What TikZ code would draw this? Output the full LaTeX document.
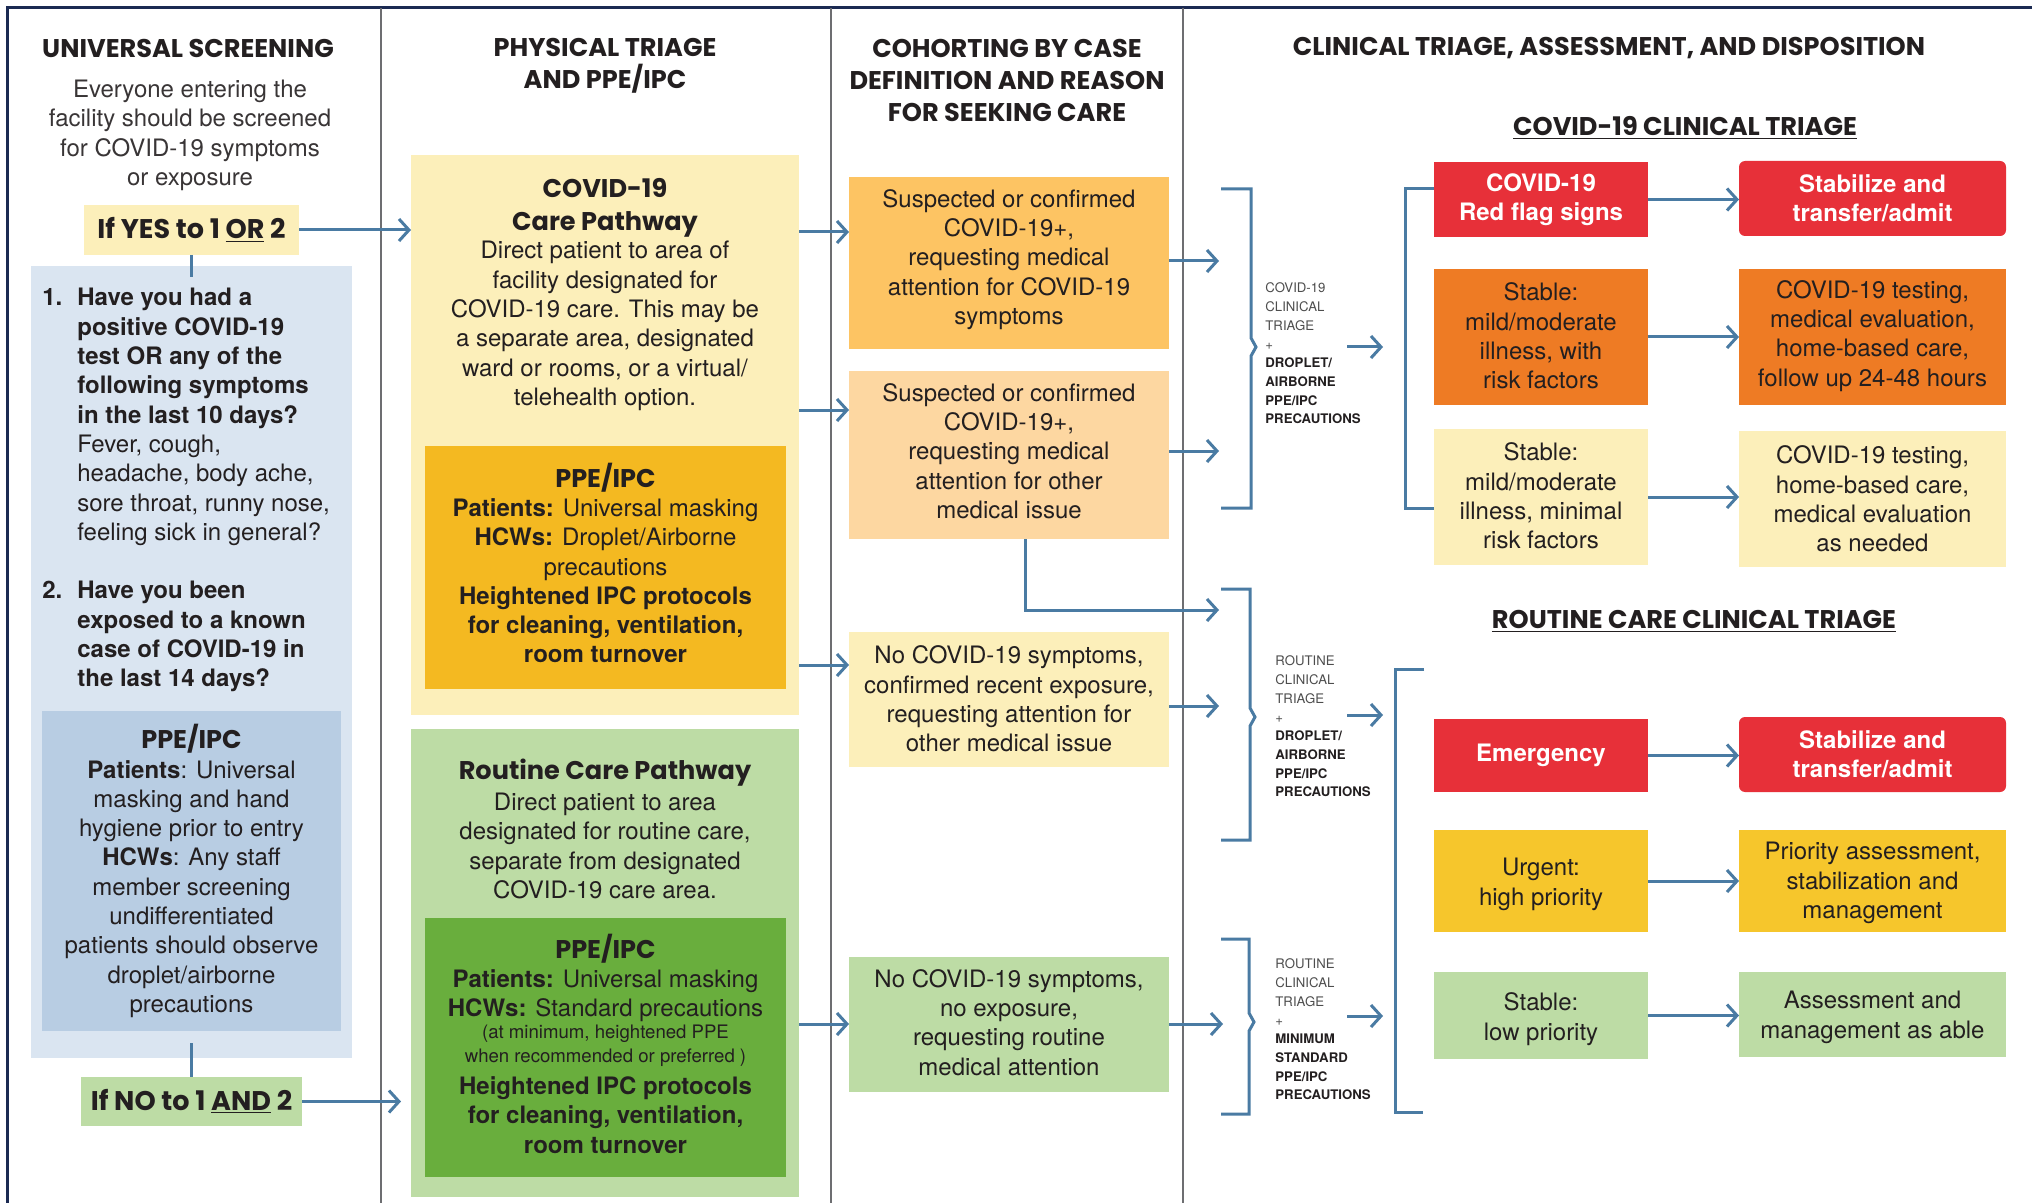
\documentclass[tikz,border=0pt]{standalone}
\usepackage{fontspec}
\setmainfont{TeX Gyre Heros}
\newfontfamily\hfont{Poppins}
\usetikzlibrary{arrows.meta,fit,calc}
\definecolor{navy}{HTML}{1B2A52}
\definecolor{sepgray}{HTML}{6D6E71}
\definecolor{lblue}{HTML}{4A7BA3}
\definecolor{txt}{HTML}{231F20}
\definecolor{paleyel}{HTML}{FCEFBA}
\definecolor{qblue}{HTML}{DAE5F1}
\definecolor{qblueD}{HTML}{B8CDE3}
\definecolor{gold}{HTML}{F4B921}
\definecolor{paleg}{HTML}{BDDCA5}
\definecolor{darkg}{HTML}{69AE3D}
\definecolor{boxa}{HTML}{FDC463}
\definecolor{boxb}{HTML}{FDD7A1}
\definecolor{redb}{HTML}{E73039}
\definecolor{orng}{HTML}{EE7B24}
\definecolor{urg}{HTML}{F6C62C}
\definecolor{lbltxt}{HTML}{4D4D4D}
\newcommand\hdtxt[1]{{\hfont\bfseries\fontsize{12.8}{14.65}\selectfont #1}}
\tikzset{
  bx/.style={inner sep=0pt, outer sep=0pt, draw=none},
  body/.style={font=\fontsize{12}{14.65}\selectfont, text=txt, align=center, inner sep=0pt},
  smallt/.style={font=\fontsize{9.3}{12}\selectfont, text=txt, align=center, inner sep=0pt},
  head/.style={font=\hfont\bfseries\fontsize{12.8}{16}\selectfont, text=txt, align=center, inner sep=0pt},
  lbl/.style={font=\fontsize{6.6}{9.35}\selectfont, text=lbltxt, align=left, inner sep=0pt, anchor=west},
  conn/.style={draw=lblue, line width=1.5pt},
  arr/.style={conn, -{Straight Barb[length=5pt,width=11pt]}},
  whb/.style={body, text=white, font=\bfseries\fontsize{12}{14.65}\selectfont},
}
\begin{document}
\begin{tikzpicture}[x=0.5pt,y=-0.5pt]
\useasboundingbox (0,0) rectangle (2032,1203);
\fill[white] (0,0) rectangle (2032,1203);
% frame and column separators
\draw[navy, line width=1.5pt] (7,1203) -- (7,8) -- (2032,8);
\draw[sepgray, line width=0.8pt] (381,8) -- (381,1203);
\draw[sepgray, line width=0.8pt] (831,8) -- (831,1203);
\draw[sepgray, line width=0.8pt] (1183,8) -- (1183,1203);

% level coordinates
\coordinate (lv232) at (0,232);
\coordinate (lv410) at (0,410);
\coordinate (lv665) at (0,665);
\coordinate (lv1024) at (0,1024);
\coordinate (lv261) at (0,261);
\coordinate (lv451) at (0,451);
\coordinate (lv610) at (0,610);
\coordinate (lv706) at (0,706);
\coordinate (lv189) at (0,189);
\coordinate (lv508) at (0,508);
\coordinate (bx1) at (1219,0);
\coordinate (bx3) at (1223,0);
\coordinate (cv) at (1025,0);

% ---------------- Column 1
\node[head] (h1) at (188,48) {UNIVERSAL SCREENING};
\node[body, text=txt!90] (intro) at (190,135.5) {Everyone entering the\\facility should be screened\\for COVID-19 symptoms\\or exposure};
\node[bx, fill=paleyel, fit={(84,205) (299,255)}] (yes) {};
\node[head, font=\hfont\bfseries\fontsize{13.5}{16}\selectfont] (yesT) at (191.5,230) {If YES to 1 \underline{OR} 2};
\node[bx, fill=qblue, fit={(31,266) (352,1058)}] (qbox) {};
\node[inner sep=0pt, anchor=north west, text=txt, font=\fontsize{12}{14.65}\selectfont] (qtxt) at (42,285) {%
\begin{tabular}{@{}l@{}l@{}}
\makebox[17.5pt][l]{\textbf{1.}} & \textbf{Have you had a}\\
 & \textbf{positive COVID-19}\\
 & \textbf{test OR any of the}\\
 & \textbf{following symptoms}\\
 & \textbf{in the last 10 days?}\\
 & Fever, cough,\\
 & headache, body ache,\\
 & sore throat, runny nose,\\
 & feeling sick in general?\\
 & \\
\makebox[17.5pt][l]{\textbf{2.}} & \textbf{Have you been}\\
 & \textbf{exposed to a known}\\
 & \textbf{case of COVID-19 in}\\
 & \textbf{the last 14 days?}
\end{tabular}};
\node[bx, fill=qblueD, fit={(42,711) (341,1031)}] (qppe) {};
\node[body] (qppeT) at (191.5,871) {\hdtxt{PPE/IPC}\\\textbf{Patients}: Universal\\masking and hand\\hygiene prior to entry\\\textbf{HCWs}: Any staff\\member screening\\undifferentiated\\patients should observe\\droplet/airborne\\precautions};
\node[bx, fill=paleg, fit={(81,1077) (302,1126)}] (no) {};
\node[head, font=\hfont\bfseries\fontsize{13.5}{16}\selectfont] (noT) at (191.5,1101.5) {If NO to 1 \underline{AND} 2};
\draw[conn] (yes.south) -- ([yshift=-5.5pt]qbox.north);
\draw[conn] ([yshift=7.5pt]qbox.south) -- (no.north);

% ---------------- Column 2
\node[head] (h2) at (605,66) {PHYSICAL TRIAGE\\AND PPE/IPC};
\node[bx, fill=paleyel, fit={(411,155) (799,715)}] (ybig) {};
\node[head, font=\hfont\bfseries\fontsize{12.8}{16.5}\selectfont] (cpT) at (605,208) {COVID-19\\Care Pathway};
\node[body] (cpB) at (605,326) {Direct patient to area of\\facility designated for\\COVID-19 care. This may be\\a separate area, designated\\ward or rooms, or a virtual/\\telehealth option.};
\node[bx, fill=gold, fit={(425,446) (786,689)}] (goldb) {};
\node[body] (goldT) at (605.5,563) {\hdtxt{PPE/IPC}\\\textbf{Patients:} Universal masking\\\textbf{HCWs:} Droplet/Airborne\\precautions\\\textbf{Heightened IPC protocols}\\\textbf{for cleaning, ventilation,}\\\textbf{room turnover}};
\node[bx, fill=paleg, fit={(411,729) (799,1197)}] (gbig) {};
\node[head] (rcT) at (605,773) {Routine Care Pathway};
\node[body] (rcB) at (605,846) {Direct patient to area\\designated for routine care,\\separate from designated\\COVID-19 care area.};
\node[bx, fill=darkg, fit={(425,918) (786,1177)}] (gdark) {};
\node[body] (gdT1) at (605.5,978) {\hdtxt{PPE/IPC}\\\textbf{Patients:} Universal masking\\\textbf{HCWs:} Standard precautions};
\node[smallt] (gdT2) at (605.5,1046) {(at minimum, heightened PPE\\when recommended or preferred )};
\node[body, font=\bfseries\fontsize{12}{14.65}\selectfont] (gdT3) at (605.5,1115) {Heightened IPC protocols\\for cleaning, ventilation,\\room turnover};
\draw[arr] (yes.east) -- (ybig.west |- yes.east);
\draw[arr, shorten >=5pt] (no.east) -- (gbig.west |- no.east);

% ---------------- Column 3
\node[head] (h3) at (1007,80) {COHORTING BY CASE\\DEFINITION AND REASON\\FOR SEEKING CARE};
\node[bx, fill=boxa, fit={(849,177) (1169,349)}] (boxA) {};
\node[body] (boxAT) at (1009,259.5) {Suspected or confirmed\\COVID-19+,\\requesting medical\\attention for COVID-19\\symptoms};
\node[bx, fill=boxb, fit={(849,371) (1169,539)}] (boxB) {};
\node[body] (boxBT) at (1009,451) {Suspected or confirmed\\COVID-19+,\\requesting medical\\attention for other\\medical issue};
\node[bx, fill=paleyel, fit={(849,632) (1169,767)}] (boxC) {};
\node[body] (boxCT) at (1009,699) {No COVID-19 symptoms,\\confirmed recent exposure,\\requesting attention for\\other medical issue};
\node[bx, fill=paleg, fit={(849,957) (1169,1092)}] (boxD) {};
\node[body] (boxDT) at (1009,1022.5) {No COVID-19 symptoms,\\no exposure,\\requesting routine\\medical attention};
\draw[arr] (ybig.east |- lv232) -- (boxA.west |- lv232);
\draw[arr] (ybig.east |- lv410) -- (boxB.west |- lv410);
\draw[arr] (ybig.east |- lv665) -- (boxC.west |- lv665);
\draw[arr] (gbig.east |- lv1024) -- (boxD.west |- lv1024);
\draw[arr] (boxA.east |- lv261) -- (bx1 |- lv261);
\draw[arr] (boxB.east |- lv451) -- (bx1 |- lv451);
\draw[arr] (boxB.south -| cv) -- (cv |- lv610) -- (bx1 |- lv610);
\draw[arr] (boxC.east |- lv706) -- (bx1 |- lv706);
\draw[arr] (boxD.east |- lv1024) -- (bx3 |- lv1024);

% brackets
\draw[conn] (1221,189) -- (1251,189) -- (1251,338) -- (1256,347) -- (1251,356) -- (1251,508) -- (1221,508);
\draw[conn] (1221,589) -- (1250,589) -- (1250,708) -- (1255,717) -- (1250,726) -- (1250,840) -- (1221,840);
\draw[conn] (1221,939) -- (1249,939) -- (1249,1013) -- (1254,1022) -- (1249,1031) -- (1249,1114) -- (1221,1114);
\node[lbl] (lab1) at (1265,353.5) {COVID-19\\CLINICAL\\TRIAGE\\+\\\textcolor{txt}{\textbf{DROPLET/}}\\\textcolor{txt}{\textbf{AIRBORNE}}\\\textcolor{txt}{\textbf{PPE/IPC}}\\\textcolor{txt}{\textbf{PRECAUTIONS}}};
\node[lbl] (lab2) at (1275,726.5) {ROUTINE\\CLINICAL\\TRIAGE\\+\\\textcolor{txt}{\textbf{DROPLET/}}\\\textcolor{txt}{\textbf{AIRBORNE}}\\\textcolor{txt}{\textbf{PPE/IPC}}\\\textcolor{txt}{\textbf{PRECAUTIONS}}};
\node[lbl] (lab3) at (1275,1029.5) {ROUTINE\\CLINICAL\\TRIAGE\\+\\\textcolor{txt}{\textbf{MINIMUM}}\\\textcolor{txt}{\textbf{STANDARD}}\\\textcolor{txt}{\textbf{PPE/IPC}}\\\textcolor{txt}{\textbf{PRECAUTIONS}}};
\coordinate (la1s) at (1347,347);
\coordinate (la1e) at (1383,347);
\coordinate (la2s) at (1347,715);
\coordinate (la2e) at (1383,715);
\coordinate (la3s) at (1347,1016);
\coordinate (la3e) at (1383,1016);
\draw[arr] (la1s) -- (la1e);
\draw[arr] (la2s) -- (la2e);
\draw[arr] (la3s) -- (la3e);

% ---------------- Column 4
\node[head] (h4) at (1609,48) {CLINICAL TRIAGE, ASSESSMENT, AND DISPOSITION};
\node[head] (s1) at (1685,128) {\underline{COVID-19 CLINICAL TRIAGE}};
\node[head] (s2) at (1694,621) {\underline{ROUTINE CARE CLINICAL TRIAGE}};

\node[bx, fill=redb, fit={(1434,162) (1648,237)}] (r1) {};
\node[whb] (r1T) at (r1.center) {COVID-19\\Red flag signs};
\node[bx, fill=redb, rounded corners=3pt, fit={(1739,161) (2006,236)}] (r1b) {};
\node[whb] (r1bT) at (r1b.center) {Stabilize and\\transfer/admit};
\node[bx, fill=orng, fit={(1434,269) (1648,405)}] (o1) {};
\node[body] (o1T) at (1541,336) {Stable:\\mild/moderate\\illness, with\\risk factors};
\node[bx, fill=orng, fit={(1739,269) (2006,405)}] (o1b) {};
\node[body] (o1bT) at (1872.5,336) {COVID-19 testing,\\medical evaluation,\\home-based care,\\follow up 24-48 hours};
\node[bx, fill=paleyel, fit={(1434,429) (1648,565)}] (y1) {};
\node[body] (y1T) at (1541,496) {Stable:\\mild/moderate\\illness, minimal\\risk factors};
\node[bx, fill=paleyel, fit={(1739,431) (2006,567)}] (y1b) {};
\node[body] (y1bT) at (1872.5,499) {COVID-19 testing,\\home-based care,\\medical evaluation\\as needed};

\node[bx, fill=redb, fit={(1434,719) (1648,792)}] (e2) {};
\node[whb] (e2T) at (e2.center) {Emergency};
\node[bx, fill=redb, rounded corners=3pt, fit={(1739,717) (2006,792)}] (e2b) {};
\node[whb] (e2bT) at (e2b.center) {Stabilize and\\transfer/admit};
\node[bx, fill=urg, fit={(1434,830) (1648,932)}] (u2) {};
\node[body] (u2T) at (1541,884.5) {Urgent:\\high priority};
\node[bx, fill=urg, fit={(1739,830) (2006,932)}] (u2b) {};
\node[body] (u2bT) at (1872.5,883) {Priority assessment,\\stabilization and\\management};
\node[bx, fill=paleg, fit={(1434,972) (1648,1059)}] (g2) {};
\node[body] (g2T) at (1541,1019) {Stable:\\low priority};
\node[bx, fill=paleg, fit={(1739,972) (2006,1057)}] (g2b) {};
\node[body] (g2bT) at (1872.5,1017.5) {Assessment and\\management as able};

\draw[arr] (r1.east) -- (r1b.west |- r1.east);
\draw[arr] (o1.east) -- (o1b.west |- o1.east);
\draw[arr] (y1.east) -- (y1b.west |- y1.east);
\draw[arr] (e2.east) -- (e2b.west |- e2.east);
\draw[arr] (u2.east) -- (u2b.west |- u2.east);
\draw[arr] (g2.east) -- (g2b.west |- g2.east);

\draw[conn] (r1.west |- lv189) -- (1405,189) -- (1405,508) -- (y1.west |- lv508);
\draw[conn] (1424,669) -- (1395,669) -- (1395,1112) -- (1423,1112);
\end{tikzpicture}
\end{document}
